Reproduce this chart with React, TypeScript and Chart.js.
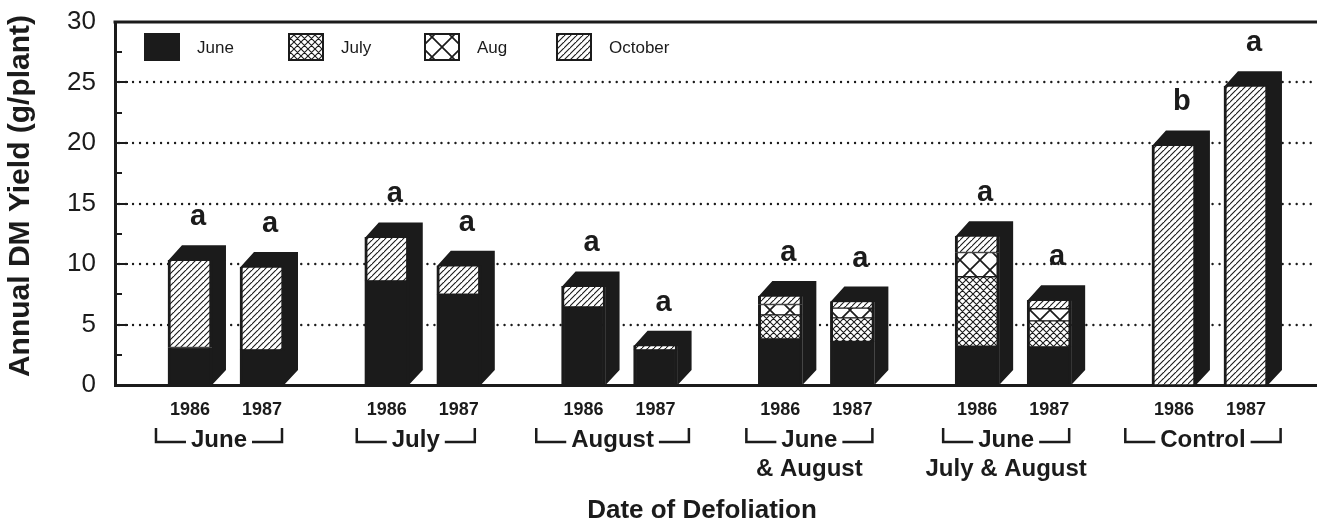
import React, { useEffect, useRef } from "react";
import { Chart, registerables } from "chart.js";

Chart.register(...registerables);

// ---------- data ----------
const GROUP_LABELS: string[][] = [
  ["June"],
  ["July"],
  ["August"],
  ["June", "& August"],
  ["June", "July & August"],
  ["Control"],
];
const YEARS = ["1986", "1987"];
const SERIES = ["June", "July", "Aug", "October"];

// yield components (g/plant), one value per defoliation group
const JUNE_1986 = [3.1, 8.6, 6.45, 3.8, 3.2, null];
const JULY_1986 = [null, null, null, 2.0, 5.75, null];
const AUG_1986 = [null, null, null, 0.85, 2.0, null];
const OCT_1986 = [7.2, 3.6, 1.7, 0.7, 1.35, 19.8];

const JUNE_1987 = [2.9, 7.5, 2.9, 3.6, 3.15, null];
const JULY_1987 = [null, null, null, 1.95, 2.15, null];
const AUG_1987 = [null, null, null, 0.8, 1.0, null];
const OCT_1987 = [6.85, 2.35, 0.35, 0.55, 0.7, 24.7];

const LETTERS_1986 = ["a", "a", "a", "a", "a", "b"];
const LETTERS_1987 = ["a", "a", "a", "a", "a", "a"];

const Y_TICKS = [0, 5, 10, 15, 20, 25, 30];
const Y_GRID = [5, 10, 15, 20, 25];
const X_TITLE = "Date of Defoliation";
const Y_TITLE = "Annual DM Yield (g/plant)";

// ---------- layout ----------
const W = 1317;
const H = 529;
const INK = "#1b1b1b";
const FONT = "'Liberation Sans', Arial, Helvetica, sans-serif";
const YEAR_OFFSET = 0.366; // position of 1987 bar relative to 1986 bar (group units)
const X_MIN = -0.381;
const X_MAX = 5.727;
const BAR_W = 44;
const DEPTH_X = 14;
const DEPTH_Y = 15;

const xOf = (g: number, yi: number) => g + yi * YEAR_OFFSET;

const POSITIONS: number[] = [];
GROUP_LABELS.forEach((_, g) => {
  POSITIONS.push(xOf(g, 0), xOf(g, 1));
});

function makePattern(kind: string): CanvasPattern | string {
  if (kind === "solid") return INK;
  const c = document.createElement("canvas");
  const size = kind === "aug" ? 20 : kind === "july" ? 7 : 6;
  c.width = size;
  c.height = size;
  const g = c.getContext("2d")!;
  g.fillStyle = "#ffffff";
  g.fillRect(0, 0, size, size);
  g.strokeStyle = INK;
  g.lineWidth = kind === "aug" ? 1.7 : 1.1;
  g.beginPath();
  g.moveTo(-1, size + 1);
  g.lineTo(size + 1, -1);
  g.moveTo(-size - 1, size + 1);
  g.lineTo(1, -1);
  g.moveTo(size - 1, 2 * size + 1);
  g.lineTo(2 * size + 1, size - 1);
  if (kind !== "oct") {
    g.moveTo(-1, -1);
    g.lineTo(size + 1, size + 1);
    g.moveTo(-size - 1, -1);
    g.lineTo(1, size + 1);
    g.moveTo(size - 1, -1);
    g.lineTo(2 * size + 1, size + 1);
  }
  g.stroke();
  return g.createPattern(c, "repeat")!;
}

function seriesData(v86: (number | null)[], v87: (number | null)[]) {
  const out: { x: number; y: number | null }[] = [];
  GROUP_LABELS.forEach((_, g) => {
    out.push({ x: xOf(g, 0), y: v86[g] });
    out.push({ x: xOf(g, 1), y: v87[g] });
  });
  return out;
}

function stackTops(chart: any) {
  const metas = chart.data.datasets.map((_: any, i: number) => chart.getDatasetMeta(i));
  return POSITIONS.map((_, j) => {
    let top = Infinity;
    let cx = 0;
    let w = 0;
    metas.forEach((m: any, i: number) => {
      const v = chart.data.datasets[i].data[j].y;
      if (v === null || v === undefined) return;
      const el = m.data[j];
      if (el.y < top) {
        top = el.y;
        cx = el.x;
        w = el.width;
      }
    });
    return { top, cx, w };
  });
}

const decorPlugin = {
  id: "decor",
  beforeDatasetsDraw(chart: any) {
    const { ctx, chartArea: ca, scales } = chart;
    const y = scales.y;
    ctx.save();
    // dotted grid
    ctx.strokeStyle = INK;
    ctx.lineWidth = 2.4;
    ctx.lineCap = "round";
    ctx.setLineDash([0.01, 7]);
    Y_GRID.forEach((v) => {
      const py = Math.round(y.getPixelForValue(v));
      ctx.beginPath();
      ctx.moveTo(ca.left + 4, py);
      ctx.lineTo(ca.right, py);
      ctx.stroke();
    });
    ctx.setLineDash([]);
    ctx.lineCap = "butt";
    // top frame line
    ctx.lineWidth = 3;
    ctx.beginPath();
    ctx.moveTo(ca.left - 1.5, ca.top);
    ctx.lineTo(ca.right, ca.top);
    ctx.stroke();
    // inward ticks
    ctx.lineWidth = 2;
    for (let v = 0; v <= 30; v += 2.5) {
      const py = Math.round(y.getPixelForValue(v));
      const len = v % 5 === 0 ? 13 : 7;
      ctx.beginPath();
      ctx.moveTo(ca.left, py);
      ctx.lineTo(ca.left + len, py);
      ctx.stroke();
    }
    // 3D sides and tops of each stack
    const base = y.getPixelForValue(0);
    ctx.fillStyle = INK;
    stackTops(chart).forEach(({ top, cx, w }) => {
      if (!isFinite(top)) return;
      const l = cx - w / 2;
      const r = cx + w / 2;
      ctx.beginPath();
      ctx.moveTo(l, top + 0.5);
      ctx.lineTo(l + DEPTH_X, top - DEPTH_Y);
      ctx.lineTo(r + DEPTH_X, top - DEPTH_Y);
      ctx.lineTo(r + DEPTH_X, base - DEPTH_Y);
      ctx.lineTo(r, base);
      ctx.lineTo(r, top + 0.5);
      ctx.closePath();
      ctx.fill();
    });
    ctx.restore();
  },
  afterDatasetsDraw(chart: any) {
    const { ctx, chartArea: ca } = chart;
    ctx.save();
    // significance letters
    ctx.fillStyle = INK;
    ctx.font = `bold 29px ${FONT}`;
    ctx.textAlign = "center";
    ctx.textBaseline = "alphabetic";
    stackTops(chart).forEach(({ top, cx }, j) => {
      const g = Math.floor(j / 2);
      const letter = j % 2 === 0 ? LETTERS_1986[g] : LETTERS_1987[g];
      ctx.fillText(letter, cx + 8, top - 35);
    });
    // legend
    const LEG_X = [30, 174, 310, 442];
    chart.data.datasets.forEach((ds: any, i: number) => {
      const bx = ca.left + LEG_X[i];
      const by = 34;
      const bg = ds.backgroundColor;
      const isPattern = typeof bg !== "string" && bg && typeof bg.setTransform === "function";
      if (isPattern && i === 2) {
        bg.setTransform(new DOMMatrix().translate(bx + 7, by + 3));
      }
      ctx.fillStyle = bg;
      ctx.fillRect(bx, by, 34, 26);
      if (isPattern && i === 2) bg.setTransform(new DOMMatrix());
      ctx.strokeStyle = INK;
      ctx.lineWidth = 2;
      ctx.strokeRect(bx, by, 34, 26);
      ctx.fillStyle = INK;
      ctx.font = `17px ${FONT}`;
      ctx.textAlign = "left";
      ctx.textBaseline = "middle";
      ctx.fillText(ds.label, bx + 52, by + 14);
    });
    ctx.restore();
  },
  afterDraw(chart: any) {
    const { ctx, scales } = chart;
    const x = scales.x;
    ctx.save();
    ctx.fillStyle = INK;
    ctx.strokeStyle = INK;
    ctx.lineWidth = 2.5;
    ctx.textAlign = "center";
    ctx.textBaseline = "alphabetic";
    GROUP_LABELS.forEach((lines, g) => {
      const c0 = x.getPixelForValue(xOf(g, 0));
      const c1 = x.getPixelForValue(xOf(g, 1));
      const mid = (c0 + c1) / 2 - 7;
      ctx.font = `bold 24px ${FONT}`;
      const tw = ctx.measureText(lines[0]).width;
      ctx.fillText(lines[0], mid, 447);
      const L = mid - tw / 2 - 35;
      const R = mid + tw / 2 + 35;
      const yb = 442;
      const yt = 428;
      ctx.beginPath();
      ctx.moveTo(L, yt);
      ctx.lineTo(L, yb);
      ctx.lineTo(mid - tw / 2 - 5, yb);
      ctx.moveTo(mid + tw / 2 + 5, yb);
      ctx.lineTo(R, yb);
      ctx.lineTo(R, yt);
      ctx.stroke();
      if (lines[1]) ctx.fillText(lines[1], mid, 476);
    });
    ctx.font = `bold 26px ${FONT}`;
    ctx.fillText(X_TITLE, 702, 518);
    // y title
    ctx.translate(21, 196);
    ctx.rotate(-Math.PI / 2);
    ctx.font = `bold 30px ${FONT}`;
    ctx.textBaseline = "middle";
    ctx.fillText(Y_TITLE, 0, 0);
    ctx.restore();
  },
};

export default function App() {
  const ref = useRef<HTMLCanvasElement | null>(null);
  useEffect(() => {
    document.body.style.margin = "0";
    if (!ref.current) return;
    Chart.defaults.font.family = FONT;
    const common = {
      borderColor: INK,
      borderWidth: { left: 3, right: 3, top: 1, bottom: 1 },
      borderSkipped: false as const,
      barThickness: BAR_W,
    };
    const chart = new Chart(ref.current, {
      type: "bar",
      data: {
        datasets: [
          { label: SERIES[0], data: seriesData(JUNE_1986, JUNE_1987), backgroundColor: makePattern("solid"), ...common },
          { label: SERIES[1], data: seriesData(JULY_1986, JULY_1987), backgroundColor: makePattern("july"), ...common },
          { label: SERIES[2], data: seriesData(AUG_1986, AUG_1987), backgroundColor: makePattern("aug"), ...common },
          { label: SERIES[3], data: seriesData(OCT_1986, OCT_1987), backgroundColor: makePattern("oct"), ...common },
        ] as any,
      },
      options: {
        animation: false,
        responsive: false,
        devicePixelRatio: 1,
        layout: { padding: { top: 22, right: 0, left: 0, bottom: 0 } },
        plugins: { legend: { display: false }, tooltip: { enabled: false } },
        scales: {
          x: {
            type: "linear",
            stacked: true,
            min: X_MIN,
            max: X_MAX,
            offset: false,
            grid: { display: false, drawTicks: false },
            border: { display: true, width: 3, color: INK },
            afterBuildTicks: (s: any) => {
              s.ticks = POSITIONS.map((v) => ({ value: v }));
            },
            ticks: {
              autoSkip: false,
              maxRotation: 0,
              padding: 14,
              color: INK,
              font: { size: 18, weight: "bold" },
              callback: (_v: any, i: number) => YEARS[i % 2],
            },
            afterFit: (s: any) => {
              s.height = 144;
              s.paddingLeft = 0;
              s.paddingRight = 0;
            },
          },
          y: {
            stacked: true,
            min: 0,
            max: 30,
            afterBuildTicks: (s: any) => {
              s.ticks = Y_TICKS.map((v) => ({ value: v }));
            },
            grid: { display: false, drawTicks: false },
            border: { display: true, width: 3, color: INK },
            ticks: { padding: 19, color: INK, font: { size: 26 } },
            title: { display: false },
            afterFit: (s: any) => {
              s.width = 115;
              s.paddingTop = 0;
              s.paddingBottom = 0;
            },
          },
        } as any,
      },
      plugins: [decorPlugin],
    });
    return () => chart.destroy();
  }, []);
  return (
    <div style={{ width: W, height: H, background: "#fff" }}>
      <canvas ref={ref} width={W} height={H} style={{ display: "block" }} />
    </div>
  );
}
